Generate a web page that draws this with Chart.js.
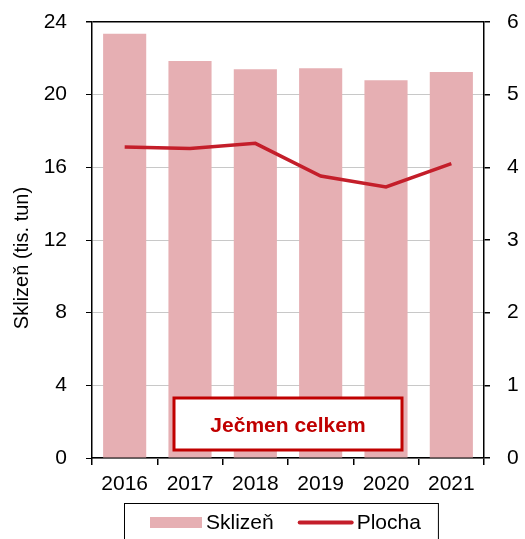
<!DOCTYPE html>
<html>
<head>
<meta charset="utf-8">
<script src="https://cdn.jsdelivr.net/npm/chart.js@4"></script>
<style>
  html, body { margin: 0; padding: 0; background: #fff; }
  #wrap { width: 525px; height: 539px; }
</style>
</head>
<body>
<div id="wrap"><canvas id="chart" width="525" height="539"></canvas></div>
<script>
const years = ['2016', '2017', '2018', '2019', '2020', '2021'];
const sklizen = [23.35, 21.85, 21.4, 21.45, 20.8, 21.25];   // tis. tun (left axis)
const plocha = [4.28, 4.26, 4.33, 3.88, 3.73, 4.05];        // right axis
const leftTicks = [0, 4, 8, 12, 16, 20, 24];
const rightTicks = [0, 1, 2, 3, 4, 5, 6];
const leftTitle = 'Sklizeň (tis. tun)';
const boxTitle = 'Ječmen celkem';

const FONT = 'Liberation Sans, Arial, sans-serif';
const RED = '#C00000';

// title box inside the plot
const labelBox = {
    id: 'labelBox',
    afterDatasetsDraw(chart) {
        const ctx = chart.ctx;
        const a = chart.chartArea;
        const x = a.left + 82, y = a.top + 376, w = 228, h = 52;
        ctx.save();
        ctx.fillStyle = '#fff';
        ctx.fillRect(x, y, w, h);
        ctx.strokeStyle = RED;
        ctx.lineWidth = 3;
        ctx.strokeRect(x, y, w, h);
        ctx.fillStyle = RED;
        ctx.font = 'bold 21px ' + FONT;
        ctx.textAlign = 'center';
        ctx.textBaseline = 'alphabetic';
        ctx.fillText(boxTitle, x + w / 2, y + 34);
        ctx.restore();
    }
};

// y title (sits a bit below the axis centre) and framed legend
const extras = {
    id: 'extras',
    afterDraw(chart) {
        const ctx = chart.ctx;
        const a = chart.chartArea;
        ctx.save();

        // axis title
        ctx.translate(27.5, (a.top + a.bottom) / 2 + 18);
        ctx.rotate(-Math.PI / 2);
        ctx.font = '20px ' + FONT;
        ctx.fillStyle = '#000';
        ctx.textAlign = 'center';
        ctx.textBaseline = 'alphabetic';
        ctx.fillText(leftTitle, 0, 0);
        ctx.setTransform(1, 0, 0, 1, 0, 0);

        // legend: bar first, then line
        ctx.font = '21px ' + FONT;
        const items = chart.data.datasets.slice().reverse().map(ds => ({
            text: ds.label,
            type: ds.type,
            color: ds.type === 'bar' ? ds.backgroundColor : ds.borderColor,
            sw: ds.type === 'bar' ? 52 : 54,
            tw: ctx.measureText(ds.label).width
        }));
        const gapSw = 4, gapItem = 25;
        let total = 0;
        items.forEach((it, i) => { total += it.sw + gapSw + it.tw + (i ? gapItem : 0); });
        let x = Math.round((a.left + a.right) / 2 - 3 - total / 2);
        const yc = 522.5;
        const start = x;
        items.forEach((it, i) => {
            if (i) x += gapItem;
            if (it.type === 'bar') {
                ctx.fillStyle = it.color;
                ctx.fillRect(x, yc - 5.5, it.sw, 11);
            } else {
                ctx.strokeStyle = it.color;
                ctx.lineWidth = 4;
                ctx.lineCap = 'round';
                ctx.beginPath();
                ctx.moveTo(x + 1, yc);
                ctx.lineTo(x + it.sw - 1, yc);
                ctx.stroke();
            }
            x += it.sw + gapSw;
            ctx.fillStyle = '#000';
            ctx.textAlign = 'left';
            ctx.fillText(it.text, x, 529);
            x += it.tw;
        });
        ctx.strokeStyle = '#000';
        ctx.lineWidth = 1;
        ctx.strokeRect(start - 26 + 0.5, 503.5, total + 26 + 17, 50);
        ctx.restore();
    }
};

new Chart(document.getElementById('chart'), {
    data: {
        labels: years,
        datasets: [
            {
                type: 'line',
                label: 'Plocha',
                data: plocha,
                yAxisID: 'y2',
                borderColor: '#C41E2A',
                backgroundColor: '#C41E2A',
                borderWidth: 3.5,
                pointRadius: 0,
                tension: 0,
                order: 0
            },
            {
                type: 'bar',
                label: 'Sklizeň',
                data: sklizen,
                yAxisID: 'y',
                backgroundColor: '#E6AFB3',
                barPercentage: 0.66,
                categoryPercentage: 1,
                order: 1
            }
        ]
    },
    options: {
        responsive: false,
        animation: false,
        layout: { padding: { top: 22, left: 0, right: 0, bottom: 0 } },
        font: { family: FONT },
        plugins: {
            tooltip: { enabled: false },
            legend: { display: false }
        },
        scales: {
            x: {
                offset: true,
                grid: { offset: true, drawOnChartArea: false, tickColor: '#000', tickLength: 7, lineWidth: 1.5 },
                border: { color: '#000', width: 1.5 },
                ticks: { color: '#000', font: { family: FONT, size: 21 }, padding: 7, maxRotation: 0 },
                afterFit(s) { s.height = 81; }
            },
            y: {
                position: 'left',
                min: 0,
                max: 24,
                afterBuildTicks(s) { s.ticks = leftTicks.map(v => ({ value: v })); },
                grid: {
                    color: c => c.tick && c.tick.value === 24 ? '#000' : '#C8C8C8',
                    lineWidth: c => c.tick && c.tick.value === 24 ? 1.5 : 1,
                    tickColor: '#000',
                    tickLength: 6
                },
                border: { color: '#000', width: 1.5 },
                ticks: { color: '#000', font: { family: FONT, size: 21 }, padding: 19 },
                afterFit(s) { s.width = 92; s.paddingTop = 0; s.paddingBottom = 0; }
            },
            y2: {
                position: 'right',
                min: 0,
                max: 6,
                afterBuildTicks(s) { s.ticks = rightTicks.map(v => ({ value: v })); },
                grid: { drawOnChartArea: false, tickColor: '#000', tickLength: 6, lineWidth: 1.5 },
                border: { color: '#000', width: 1.5 },
                ticks: { color: '#000', font: { family: FONT, size: 21 }, padding: 17 },
                afterFit(s) { s.width = 41; s.paddingTop = 0; s.paddingBottom = 0; }
            }
        }
    },
    plugins: [labelBox, extras]
});
</script>
</body>
</html>
